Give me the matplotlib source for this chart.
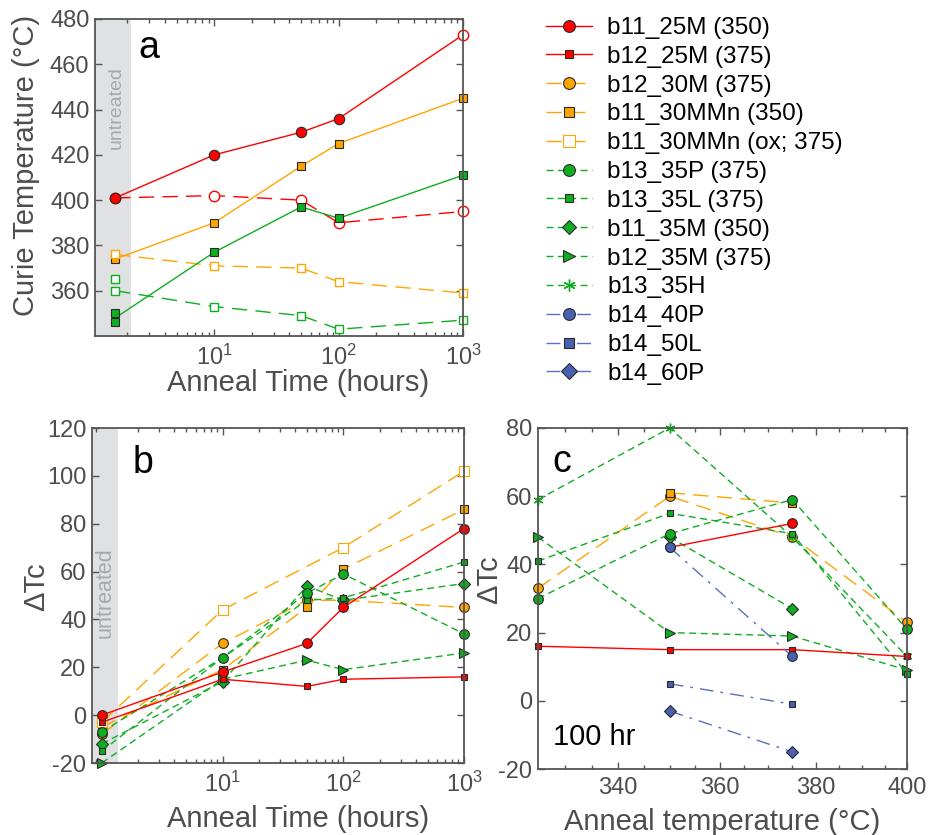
import matplotlib
matplotlib.use("Agg")
import matplotlib.pyplot as plt
import numpy as np
from matplotlib.lines import Line2D
from matplotlib.ticker import FixedLocator, FixedFormatter, LogLocator, NullFormatter
import matplotlib.transforms as mtransforms

plt.rcParams["font.family"] = ["Liberation Sans", "DejaVu Sans"]
plt.rcParams["mathtext.fontset"] = "custom"
plt.rcParams["mathtext.rm"] = "Liberation Sans"
plt.rcParams["axes.unicode_minus"] = False

nan = np.nan

# ---- panel a: Curie temperature vs anneal time ----
TIME_A = [1.6, 10, 50, 100, 1000]
TC_B11_25M = [401, 420, 430, 436, 473]          # last point open
TC_B11_25M_OPEN = [401, 402, 400, 390, 395]
TC_B11_30MMN = [374, 390, 415, 425, 445]
TC_B11_30MMN_OX = [376, 371, 370, 364, 359]
TC_GREEN = [348, 377, 397, 392, 411]
TC_GREEN_UNTREATED = [350, 346]
TC_GREEN_OPEN = [360, 353, 349, 343, 347]
TC_GREEN_OPEN_UNTREATED = [365]

# ---- panel b: delta Tc vs anneal time ----
TIME_B = [1, 10, 50, 100, 1000]
DT_B11_25M = [0, 18, 30, 45, 78]
DT_B12_25M = [-3, 15, 12, 15, 16]
DT_B12_30M = [-8, 30, 48, 48, 45]
DT_B11_30MMN = [-5, 19, 45, 61, 86]
DT_B11_30MMN_OX = [-3, 44, nan, 70, 102]
DT_B13_35P = [-7, 24, 51, 59, 34]
DT_B13_35L = [-15, 24, 48, 49, 64]
DT_B11_35M = [-12, 14, 54, 48, 55]
DT_B12_35M = [-20, 15, 23, 19, 26]

# ---- panel c: delta Tc vs anneal temperature at 100 hr ----
TEMP_C = [325, 350, 375, 400]
C_B11_25M = [nan, 45, 52, nan]
C_B12_25M = [16, 15, 15, 13]
C_B12_30M = [33, 60, 48, 23]
C_B11_30MMN = [nan, 61, 58, nan]
C_B11_30MMN_OX = [nan, nan, nan, nan]
C_B13_35P = [30, 49, 59, 21]
C_B13_35L = [41, 55, 49, 8]
C_B11_35M = [nan, 48, 27, nan]
C_B12_35M = [48, 20, 19, 9]
C_B13_35H = [59, 80, 48, 13]
C_B14_40P = [nan, 45, 13, nan]
C_B14_50L = [nan, 5, -1, nan]
C_B14_60P = [nan, -3, -15, nan]

NAMES = ["b11_25M (350)", "b12_25M (375)", "b12_30M (375)", "b11_30MMn (350)",
         "b11_30MMn (ox; 375)", "b13_35P (375)", "b13_35L (375)", "b11_35M (350)",
         "b12_35M (375)", "b13_35H", "b14_40P", "b14_50L", "b14_60P"]

RED = "#ff0000"
ORANGE = "#ffa500"
GREEN = "#0fae20"
BLUE = "#4760b0"
BLUE_LINE = "#5b70c4"
EDGE = "#2a2a2a"
AXC = "#555555"
TXT = "#4d4d4d"

SOLID = (None, None)
LONG = (0, (11, 6))
SHORT = (0, (5, 3.2))
DASHDOT = (0, (10, 5, 2, 5))
ASTERISK = (6, 2, 0)

# name -> (line color, linestyle, marker, face, size)
STYLE = {
    NAMES[0]: (RED, "-", "o", RED, 7),
    NAMES[1]: (RED, "-", "s", RED, 4.6),
    NAMES[2]: (ORANGE, LONG, "o", ORANGE, 7),
    NAMES[3]: (ORANGE, LONG, "s", ORANGE, 6),
    NAMES[4]: (ORANGE, LONG, "s", "white", 7),
    NAMES[5]: (GREEN, SHORT, "o", GREEN, 7),
    NAMES[6]: (GREEN, SHORT, "s", GREEN, 4.6),
    NAMES[7]: (GREEN, SHORT, "D", GREEN, 6),
    NAMES[8]: (GREEN, SHORT, ">", GREEN, 7.5),
    NAMES[9]: (GREEN, SHORT, ASTERISK, GREEN, 7),
    NAMES[10]: (BLUE_LINE, DASHDOT, "o", BLUE, 7),
    NAMES[11]: (BLUE_LINE, DASHDOT, "s", BLUE, 5),
    NAMES[12]: (BLUE_LINE, DASHDOT, "D", BLUE, 6.5),
}


def marker_edge(marker, face, color):
    if face == "white" or marker == ASTERISK:
        return color
    return EDGE


def series_plot(ax, x, y, name, lw=1.0):
    color, ls, marker, face, ms = STYLE[name]
    ls = "-" if ls == SOLID else ls
    ax.plot(x, y, color=color, linestyle=ls, linewidth=lw, marker=marker,
            markerfacecolor=face, markeredgecolor=marker_edge(marker, face, color),
            markersize=ms, markeredgewidth=1.0 if marker == ASTERISK else 0.8,
            clip_on=False)


def style_axes(ax):
    for sp in ax.spines.values():
        sp.set_color(AXC)
        sp.set_linewidth(1.3)
    ax.tick_params(which="both", direction="in", top=True, right=True,
                   color=AXC, labelcolor=TXT, labelsize=17, width=1.0)
    ax.tick_params(which="major", length=5, pad=4)
    ax.tick_params(axis="x", which="major", pad=6)
    ax.tick_params(which="minor", length=3)


def log_time_axis(ax):
    ax.set_xscale("log")
    ax.xaxis.set_major_locator(FixedLocator([10, 100, 1000]))
    ax.xaxis.set_major_formatter(FixedFormatter([r"$\mathregular{10^{1}}$",
                                                 r"$\mathregular{10^{2}}$",
                                                 r"$\mathregular{10^{3}}$"]))
    ax.xaxis.set_minor_locator(LogLocator(base=10, subs=np.arange(2, 10), numticks=20))
    ax.xaxis.set_minor_formatter(NullFormatter())


W, H = 934, 835
fig = plt.figure(figsize=(W / 100, H / 100), dpi=100)


def axes_px(l, t, r, b):
    return fig.add_axes([l / W, 1 - b / H, (r - l) / W, (b - t) / H])


# ---------------- panel a ----------------
ax_a = axes_px(95, 19, 463, 336)
log_time_axis(ax_a)
ax_a.set_xlim(1.1, 1000)
ax_a.set_ylim(340, 480)
ax_a.set_yticks([360, 380, 400, 420, 440, 460, 480])
ax_a.axvspan(1.1, 2.16, color="#e0e1e3", zorder=0, lw=0)

ax_a.plot(TIME_A, TC_B11_25M_OPEN, color=RED, ls=LONG, lw=1.0, marker="o",
          mfc="white", mec=RED, ms=7.5, mew=1.0, clip_on=False)
ax_a.plot(TIME_A, TC_B11_25M, color=RED, lw=1.0, clip_on=False)
ax_a.plot(TIME_A[:4], TC_B11_25M[:4], ls="none", marker="o", mfc=RED, mec=EDGE,
          ms=7.5, mew=0.8)
ax_a.plot(TIME_A[4:], TC_B11_25M[4:], ls="none", marker="o", mfc="white", mec=RED,
          ms=7.5, mew=1.0, clip_on=False)
ax_a.plot(TIME_A, TC_B11_30MMN, color=ORANGE, lw=1.0, marker="s", mfc=ORANGE,
          mec=EDGE, ms=6, mew=0.8, clip_on=False)
ax_a.plot(TIME_A, TC_B11_30MMN_OX, color=ORANGE, ls=LONG, lw=1.0, marker="s",
          mfc="white", mec=ORANGE, ms=5.5, mew=1.0, clip_on=False)
ax_a.plot(TIME_A, TC_GREEN, color=GREEN, lw=1.0, marker="s", mfc=GREEN, mec=EDGE,
          ms=6, mew=0.8, markevery=[1, 2, 3, 4], clip_on=False)
ax_a.plot([TIME_A[0]] * len(TC_GREEN_UNTREATED), TC_GREEN_UNTREATED, ls="none",
          marker="s", mfc=GREEN, mec=EDGE, ms=6, mew=0.8)
ax_a.plot(TIME_A, TC_GREEN_OPEN, color=GREEN, ls=LONG, lw=1.0, marker="s",
          mfc="white", mec=GREEN, ms=5.5, mew=1.0, clip_on=False)
ax_a.plot([TIME_A[0]] * len(TC_GREEN_OPEN_UNTREATED), TC_GREEN_OPEN_UNTREATED,
          ls="none", marker="s", mfc="white", mec=GREEN, ms=5.5, mew=1.0)

style_axes(ax_a)
ax_a.set_ylabel("Curie Temperature (°C)", fontsize=21, color=TXT)
ax_a.yaxis.set_label_coords(-0.149, 0.539)
ax_a.set_xlabel("Anneal Time (hours)", fontsize=21, color=TXT)
ax_a.xaxis.set_label_coords(0.552, -0.105)
ax_a.text(0.147, 0.876, "a", transform=ax_a.transAxes, fontsize=27, ha="center",
          va="baseline", color="black")
tr_a = mtransforms.blended_transform_factory(ax_a.transData, ax_a.transAxes)
ax_a.text(1.63, 0.72, "untreated", transform=tr_a, rotation=90, fontsize=14,
          color="#a8a8a8", ha="center", va="center")

# ---------------- panel b ----------------
ax_b = axes_px(92, 428, 464, 763)
log_time_axis(ax_b)
ax_b.set_xlim(0.83, 1000)
ax_b.set_ylim(-20, 120)
ax_b.set_yticks(np.arange(-20, 121, 20))
ax_b.axvspan(0.83, 1.36, color="#e0e1e3", zorder=0, lw=0)

b_series = [
    (NAMES[2], DT_B12_30M), (NAMES[3], DT_B11_30MMN), (NAMES[4], DT_B11_30MMN_OX),
    (NAMES[8], DT_B12_35M), (NAMES[7], DT_B11_35M), (NAMES[6], DT_B13_35L),
    (NAMES[5], DT_B13_35P), (NAMES[1], DT_B12_25M), (NAMES[0], DT_B11_25M),
]
for name, vals in b_series:
    x = np.array(TIME_B, dtype=float)
    y = np.array(vals, dtype=float)
    ok = ~np.isnan(y)
    series_plot(ax_b, x[ok], y[ok], name)

style_axes(ax_b)
ax_b.set_ylabel("ΔTc", fontsize=21, color=TXT)
ax_b.yaxis.set_label_coords(-0.113, 0.525)
ax_b.set_xlabel("Anneal Time (hours)", fontsize=21, color=TXT)
ax_b.xaxis.set_label_coords(0.555, -0.125)
ax_b.text(0.138, 0.866, "b", transform=ax_b.transAxes, fontsize=27, ha="center",
          va="baseline", color="black")
tr_b = mtransforms.blended_transform_factory(ax_b.transData, ax_b.transAxes)
ax_b.text(1.07, 0.51, "untreated", transform=tr_b, rotation=90, fontsize=15.5,
          color="#a8a8a8", ha="center", va="center")

# ---------------- panel c ----------------
ax_c = axes_px(538, 428, 907, 769)
ax_c.set_xscale("log")
ax_c.set_xlim(325, 400)
ax_c.set_ylim(-20, 80)
ax_c.xaxis.set_major_locator(FixedLocator([340, 360, 380, 400]))
ax_c.xaxis.set_major_formatter(FixedFormatter(["340", "360", "380", "400"]))
ax_c.xaxis.set_minor_locator(FixedLocator([330, 335, 345, 350, 355, 365, 370, 375,
                                           385, 390, 395]))
ax_c.xaxis.set_minor_formatter(NullFormatter())
ax_c.set_yticks(np.arange(-20, 81, 20))

c_series = [
    (NAMES[2], C_B12_30M), (NAMES[3], C_B11_30MMN), (NAMES[4], C_B11_30MMN_OX),
    (NAMES[9], C_B13_35H), (NAMES[8], C_B12_35M), (NAMES[7], C_B11_35M),
    (NAMES[6], C_B13_35L), (NAMES[5], C_B13_35P), (NAMES[1], C_B12_25M),
    (NAMES[0], C_B11_25M), (NAMES[10], C_B14_40P), (NAMES[11], C_B14_50L),
    (NAMES[12], C_B14_60P),
]
for name, vals in c_series:
    x = np.array(TEMP_C, dtype=float)
    y = np.array(vals, dtype=float)
    ok = ~np.isnan(y)
    if ok.any():
        series_plot(ax_c, x[ok], y[ok], name)

style_axes(ax_c)
ax_c.set_ylabel("ΔTc", fontsize=21, color=TXT)
ax_c.yaxis.set_label_coords(-0.095, 0.554)
ax_c.set_xlabel("Anneal temperature (°C)", fontsize=21, color=TXT)
ax_c.xaxis.set_label_coords(0.5, -0.115)
ax_c.text(0.065, 0.872, "c", transform=ax_c.transAxes, fontsize=27, ha="center",
          va="baseline", color="black")
ax_c.text(0.041, 0.07, "100 hr", transform=ax_c.transAxes, fontsize=21, ha="left",
          va="baseline", color="black")

# ---------------- legend ----------------
handles = []
for name in NAMES:
    color, ls, marker, face, ms = STYLE[name]
    handles.append(Line2D([], [], color=color, linestyle="-" if ls == SOLID else ls,
                          linewidth=1.0, marker=marker, markerfacecolor=face,
                          markeredgecolor=marker_edge(marker, face, color),
                          markersize=ms + 1.5,
                          markeredgewidth=1.0 if marker == ASTERISK else 0.8))
fig.legend(handles, NAMES, loc="upper left", bbox_to_anchor=(546 / W, 1 - 17 / H),
           frameon=False, fontsize=17.5, handlelength=1.9, handletextpad=0.62,
           labelspacing=0.28, borderpad=0, borderaxespad=0)

fig.savefig("out.png", dpi=100)
